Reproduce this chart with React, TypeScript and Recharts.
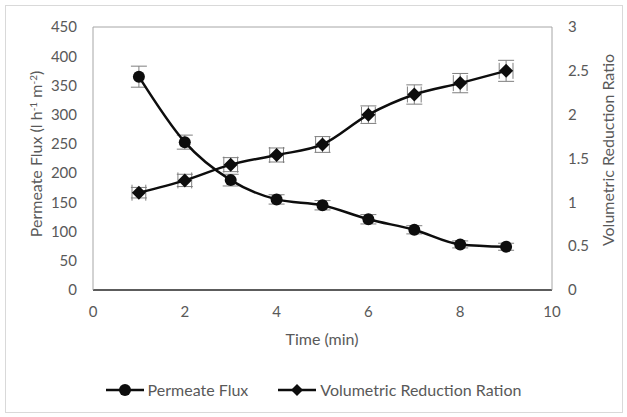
import {
  ComposedChart,
  Line,
  Scatter,
  XAxis,
  YAxis,
  ErrorBar,
  ReferenceLine,
} from 'recharts'

const times = [1, 2, 3, 4, 5, 6, 7, 8, 9]
const flux = [365, 253, 188, 155, 145, 121, 103, 78, 74]
const fluxErr = [18, 12, 10, 8, 8, 8, 7, 6, 6]
const vrr = [1.11, 1.25, 1.43, 1.54, 1.66, 2.0, 2.23, 2.36, 2.5]
const vrrErr = [0.06, 0.07, 0.08, 0.08, 0.09, 0.1, 0.11, 0.11, 0.12]
const vrrTimeErr = [0.15, 0.15, 0.15, 0.15, 0.15, 0.15, 0.15, 0.15, 0.15]
const xTicks = [0, 2, 4, 6, 8, 10]
const fluxTicks = [0, 50, 100, 150, 200, 250, 300, 350, 400, 450]
const vrrTicks = [0, 0.5, 1, 1.5, 2, 2.5, 3]

const FONT = 'Lato, "Open Sans", sans-serif'
const TEXT = '#595959'
const INK = '#0d0d0d'
const FS = 15

const chartData = times.map((t, i) => ({
  time: t,
  flux: flux[i],
  fluxErr: fluxErr[i],
  vrr: vrr[i],
  vrrErr: vrrErr[i],
  vrrTimeErr: vrrTimeErr[i],
}))

function CircleDot(props: any) {
  const { cx, cy, index } = props
  if (cx == null || cy == null) return <g key={index} />
  return <circle key={index} cx={cx} cy={cy} r={6} fill={INK} />
}

function DiamondDot(props: any) {
  const { cx, cy, index } = props
  if (cx == null || cy == null) return <g key={index} />
  const s = 7
  return (
    <path
      key={index}
      d={`M${cx},${cy - s} L${cx + s},${cy} L${cx},${cy + s} L${cx - s},${cy} Z`}
      fill={INK}
    />
  )
}

function LeftLabel() {
  return (
    <text
      transform="translate(42,154) rotate(-90)"
      textAnchor="middle"
      fill={TEXT}
      fontSize={16}
      fontFamily={FONT}
    >
      Permeate Flux (l h
      <tspan fontSize={10} dy={-5}>-1</tspan>
      <tspan dy={5}> m</tspan>
      <tspan fontSize={10} dy={-5}>-2</tspan>
      <tspan dy={5}>)</tspan>
    </text>
  )
}

function RightLabel() {
  return (
    <text
      transform="translate(614,150) rotate(-90)"
      textAnchor="middle"
      fill={TEXT}
      fontSize={16}
      fontFamily={FONT}
    >
      Volumetric Reduction Ratio
    </text>
  )
}

function BottomLabel() {
  return (
    <text x={322} y={345} textAnchor="middle" fill={TEXT} fontSize={16} fontFamily={FONT}>
      Time (min)
    </text>
  )
}

function LegendRow() {
  return (
    <div
      style={{
        position: 'absolute',
        top: 380,
        left: 0,
        width: 627,
        display: 'flex',
        justifyContent: 'center',
        gap: 30,
        fontFamily: FONT,
        fontSize: 16,
        color: TEXT,
      }}
    >
      <div style={{ display: 'flex', alignItems: 'center', gap: 4 }}>
        <svg width={38} height={16}>
          <line x1={0} y1={8} x2={38} y2={8} stroke={INK} strokeWidth={2.5} />
          <circle cx={19} cy={8} r={6} fill={INK} />
        </svg>
        <span>Permeate Flux</span>
      </div>
      <div style={{ display: 'flex', alignItems: 'center', gap: 4 }}>
        <svg width={38} height={16}>
          <line x1={0} y1={8} x2={38} y2={8} stroke={INK} strokeWidth={2.5} />
          <path d="M19,2 L25,8 L19,14 L13,8 Z" fill={INK} />
        </svg>
        <span>Volumetric Reduction Ration</span>
      </div>
    </div>
  )
}

export default function App() {
  const tick = { fontSize: FS, fill: TEXT, fontFamily: FONT }
  return (
    <div
      style={{
        position: 'absolute',
        left: 0,
        top: 0,
        width: 627,
        height: 417,
        background: '#fff',
      }}
    >
      <div
        style={{
          position: 'absolute',
          left: 5,
          top: 5,
          width: 616,
          height: 406,
          border: '1px solid #d9d9d9',
        }}
      />
      <ComposedChart
        width={627}
        height={417}
        data={chartData}
        margin={{ top: 27, right: 0, bottom: 0, left: 0 }}
        style={{ position: 'absolute', left: 0, top: 0 }}
      >
        <XAxis
          type="number"
          dataKey="time"
          domain={[0, 10]}
          ticks={xTicks}
          interval={0}
          tick={tick}
          tickLine={false}
          tickSize={6}
          tickMargin={10}
          axisLine={{ stroke: '#262626', strokeWidth: 1.5 }}
          label={<BottomLabel />}
          height={127}
        />
        <YAxis
          yAxisId="left"
          domain={[0, 450]}
          ticks={fluxTicks}
          interval={0}
          width={93}
          tick={tick}
          tickLine={false}
          tickSize={6}
          tickMargin={10}
          axisLine={{ stroke: '#a6a6a6' }}
          label={<LeftLabel />}
        />
        <YAxis
          yAxisId="right"
          orientation="right"
          domain={[0, 3]}
          ticks={vrrTicks}
          interval={0}
          width={75}
          tick={tick}
          tickLine={false}
          tickSize={6}
          tickMargin={10}
          axisLine={{ stroke: '#a6a6a6' }}
          label={<RightLabel />}
        />
        <ReferenceLine yAxisId="left" y={450} stroke="#a6a6a6" />
        <Scatter
          yAxisId="right"
          dataKey="vrr"
          shape={() => <g />}
          isAnimationActive={false}
          legendType="none"
        >
          <ErrorBar dataKey="vrrErr" direction="y" width={8} stroke="#7f7f7f" strokeWidth={1} isAnimationActive={false} />
          <ErrorBar dataKey="vrrTimeErr" direction="x" width={8} stroke="#7f7f7f" strokeWidth={1} isAnimationActive={false} />
        </Scatter>
        <Line
          yAxisId="left"
          type="monotone"
          dataKey="flux"
          stroke={INK}
          strokeWidth={2.5}
          dot={CircleDot}
          activeDot={false}
          isAnimationActive={false}
        >
          <ErrorBar dataKey="fluxErr" direction="y" width={8} stroke="#7f7f7f" strokeWidth={1} isAnimationActive={false} />
        </Line>
        <Line
          yAxisId="right"
          type="monotone"
          dataKey="vrr"
          stroke={INK}
          strokeWidth={2.5}
          dot={DiamondDot}
          activeDot={false}
          isAnimationActive={false}
        />
      </ComposedChart>
      <LegendRow />
    </div>
  )
}
